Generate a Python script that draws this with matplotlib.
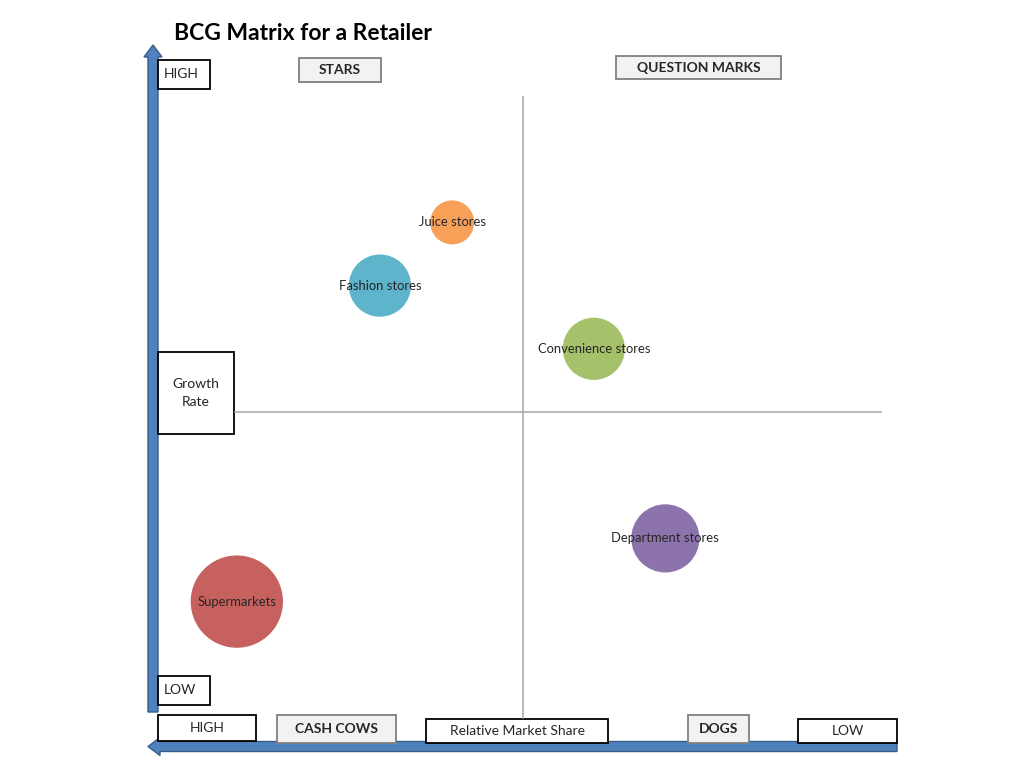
import matplotlib
matplotlib.use("Agg")
from matplotlib import pyplot as plt
from matplotlib.patches import Rectangle, FancyArrow
import numpy as np

plt.rcParams['font.family'] = ['Lato', 'DejaVu Sans']

# bubble data (relative market share axis runs HIGH -> LOW left to right)
names = ["Juice stores", "Fashion stores", "Convenience stores",
         "Department stores", "Supermarkets"]
share = [4.03, 3.04, 5.97, 6.95, 1.08]
growth = [8.0, 7.0, 6.0, 3.0, 2.0]
size = [5, 10, 10, 12, 22]
colors = ["#F79646", "#4BACC6", "#9BBB59", "#8064A2", "#C0504D"]

# frame labels: (text, left, top, right, bottom, bold, fill)
boxes = [
    ("HIGH", 158, 60, 210, 89, False, "white"),
    ("STARS", 299, 58, 381, 82, True, "#F2F2F2"),
    ("QUESTION MARKS", 616, 56, 781, 79, True, "#F2F2F2"),
    ("Growth\nRate", 158, 352, 234, 434, False, "white"),
    ("LOW", 158, 676, 210, 705, False, "white"),
    ("HIGH", 158, 715, 256, 741, False, "white"),
    ("CASH COWS", 277, 715, 396, 743, True, "#F2F2F2"),
    ("Relative Market Share", 426, 719, 608, 743, False, "white"),
    ("DOGS", 688, 715, 749, 743, True, "#F2F2F2"),
    ("LOW", 798, 719, 897, 743, False, "white"),
]

W, H = 1024, 768
fig = plt.figure(figsize=(W / 100, H / 100), dpi=100)

# background axes in pixel units for the frame
bg = fig.add_axes([0, 0, 1, 1])
bg.set_xlim(0, W)
bg.set_ylim(H, 0)
bg.axis('off')

bg.text(303, 33, "BCG Matrix for a Retailer", ha='center', va='center',
        fontsize=16.5, fontweight='bold', color='black')

# bubble plot area
px_l, px_r, px_t, px_b = 158, 888, 96, 728
ax = fig.add_axes([px_l / W, 1 - px_b / H, (px_r - px_l) / W, (px_b - px_t) / H])
ax.set_xlim(0, 10)
ax.set_ylim(0, 10)
ax.axis('off')

ax.plot([5, 5], [0.16, 10.02], color='#A6A6A6', lw=1.1, zorder=1)
ax.plot([1.05, 9.9], [5, 5], color='#A6A6A6', lw=1.1, zorder=1)

k = 9.84  # px radius per sqrt(size)
s = [(2 * k * np.sqrt(v) * 0.72) ** 2 for v in size]
ax.scatter(share, growth, s=s, c=colors, alpha=0.9, edgecolors='none', zorder=2)
for n, x, y in zip(names, share, growth):
    ax.text(x, y, n, ha='center', va='center', fontsize=9.4, color='#262626', zorder=3)

# axis arrows
bg.add_patch(FancyArrow(153, 712, 0, 45 - 712, width=10, head_width=18,
                        head_length=12, length_includes_head=True,
                        facecolor='#4F81BD', edgecolor='#385D8A', lw=1))
bg.add_patch(FancyArrow(897, 746.5, 148 - 897, 0, width=10, head_width=18,
                        head_length=12, length_includes_head=True,
                        facecolor='#4F81BD', edgecolor='#385D8A', lw=1))

for text, l, t, r, b, bold, fill in boxes:
    edge = '#7F7F7F' if bold else 'black'
    bg.add_patch(Rectangle((l, t), r - l, b - t, facecolor=fill,
                           edgecolor=edge, lw=1.3, zorder=4))
    if text in ("HIGH", "LOW") and l == 158 and r == 210:
        bg.text(l + 6, (t + b) / 2, text, ha='left', va='center',
                fontsize=10, color='#262626', zorder=5)
    else:
        bg.text((l + r) / 2, (t + b) / 2, text, ha='center', va='center',
                fontsize=10, fontweight='bold' if bold else 'normal',
                color='#262626', zorder=5, linespacing=1.5)

fig.savefig("out.png", dpi=100)
